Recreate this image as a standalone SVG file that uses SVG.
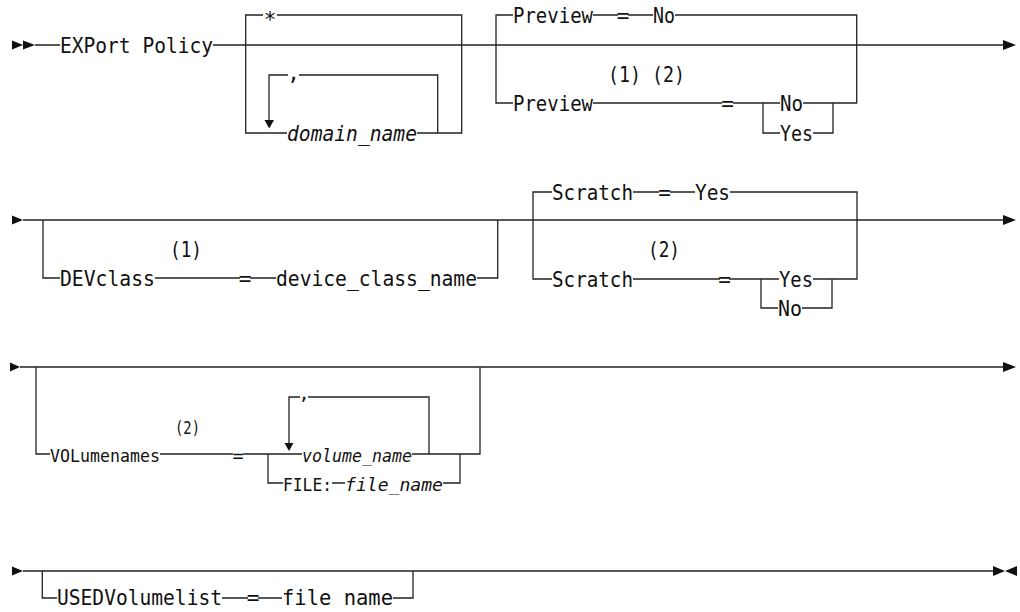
<svg xmlns="http://www.w3.org/2000/svg" width="1020" height="612" viewBox="0 0 1020 612">
<style>
text{font-family:"DejaVu Sans Mono","Liberation Mono",monospace;font-size:21px;fill:#111}
.s{font-size:18.5px}
.i{font-style:italic}
.m{text-anchor:middle}
.c{fill:none;stroke:#222;stroke-width:1.3}
.a{fill:#111;stroke:none}
</style>
<rect width="1020" height="612" fill="#fff"/>
<g id="connectors">
<path class="c" d="M35,45 H60 M213,45 H1003 M263,15 H245.7 V133 H287 M277,15 H461.7 V133 H417 M269,120 V75 H288 M299,75 H437.7 V133 M513,15 H496 V103 H513 M593,15 H618 M628,15 H653 M675,15 H856.7 V103 H803 M593,103 H722 M733,103 H780 M763,103 V133 H780 M813,133 H833 V103"/>
<path class="c" d="M23,220 H1003 M60,278 H43 V220 M497.7,220 V278 H477 M155,278 H240 M250,278 H276 M552,192 H533 V279 H552 M633,192 H659 M670,192 H695 M730,192 H857 V279 H813 M633,279 H720 M729,279 H779 M761,279 V308 H778 M802,308 H832 V279"/>
<path class="c" d="M20,367 H1003 M50,454 H36 V367 M480,367 V454 H412 M160,454 H233 M243,454 H302 M268,454 V483 H283 M332,483 H345 M443,483 H460 V454 M289,443 V397 H300 M308,397 H429 V454"/>
<path class="c" d="M23,571 H993 M57,598 H42.3 V571 M413,571 V598 H393 M222,598 H248 M258,598 H282"/>
<polygon class="a" points="12,40.5 23,45 12,49.5"/>
<polygon class="a" points="23,40.5 35,45 23,49.5"/>
<polygon class="a" points="1003,40 1016,45 1003,50"/>
<polygon class="a" points="264.5,120 274,120 269.2,128.5"/>
<polygon class="a" points="12,215.5 23,220 12,224.5"/>
<polygon class="a" points="1003,215 1016,220 1003,225"/>
<polygon class="a" points="10,362.5 20,367 10,371.5"/>
<polygon class="a" points="1003,362 1016,367 1003,372"/>
<polygon class="a" points="284.5,443 293.5,443 289,451"/>
<polygon class="a" points="12,566.5 23,571 12,575.5"/>
<polygon class="a" points="993,566 1005,571 993,576"/>
<polygon class="a" points="1017,566 1005,571 1017,576"/>
</g>
<g id="n-export"><text x="60" y="52.5" textLength="153" lengthAdjust="spacingAndGlyphs">EXPort Policy</text></g>
<g id="n-star"><text class="m" x="270" y="27">*</text></g>
<g id="n-comma1"><text class="m" x="293.5" y="80">,</text></g>
<g id="n-domain"><text class="i" x="287" y="140.5" textLength="130" lengthAdjust="spacingAndGlyphs">domain_name</text></g>
<g id="n-preview1"><text x="513" y="22.5" textLength="80" lengthAdjust="spacingAndGlyphs">Preview</text><text class="m" x="623" y="22.5">=</text><text x="653" y="22.5" textLength="22" lengthAdjust="spacingAndGlyphs">No</text></g>
<g id="n-note12"><text x="608" y="82" textLength="77" lengthAdjust="spacingAndGlyphs">(1) (2)</text></g>
<g id="n-preview2"><text x="513" y="110.5" textLength="80" lengthAdjust="spacingAndGlyphs">Preview</text><text class="m" x="727.5" y="110.5">=</text></g>
<g id="n-pno"><text x="780" y="110.5" textLength="23" lengthAdjust="spacingAndGlyphs">No</text></g>
<g id="n-pyes"><text x="780" y="140.5" textLength="33" lengthAdjust="spacingAndGlyphs">Yes</text></g>
<g id="n-devclass"><text x="60" y="285.5" textLength="95" lengthAdjust="spacingAndGlyphs">DEVclass</text><text x="170" y="257" textLength="32" lengthAdjust="spacingAndGlyphs">(1)</text><text class="m" x="245" y="285.5">=</text><text x="276" y="285.5" textLength="201" lengthAdjust="spacingAndGlyphs">device_class_name</text></g>
<g id="n-scratch1"><text x="552" y="199.5" textLength="81" lengthAdjust="spacingAndGlyphs">Scratch</text><text class="m" x="664.5" y="199.5">=</text><text x="695" y="199.5" textLength="35" lengthAdjust="spacingAndGlyphs">Yes</text></g>
<g id="n-scratch2"><text x="648" y="257" textLength="32" lengthAdjust="spacingAndGlyphs">(2)</text><text x="552" y="286.5" textLength="81" lengthAdjust="spacingAndGlyphs">Scratch</text><text class="m" x="724.5" y="286.5">=</text></g>
<g id="n-syes"><text x="779" y="286.5" textLength="34" lengthAdjust="spacingAndGlyphs">Yes</text></g>
<g id="n-sno"><text x="778" y="315.5" textLength="24" lengthAdjust="spacingAndGlyphs">No</text></g>
<g id="n-volnames"><text class="s" x="50" y="461.5" textLength="110" lengthAdjust="spacingAndGlyphs">VOLumenames</text><text class="s" x="175" y="434" textLength="25" lengthAdjust="spacingAndGlyphs">(2)</text><text class="s m" x="238" y="461.5">=</text></g>
<g id="n-volname"><text class="s i" x="302" y="461.5" textLength="110" lengthAdjust="spacingAndGlyphs">volume_name</text><text class="s m" x="304" y="400">,</text></g>
<g id="n-file"><text class="s" x="283" y="491" textLength="49" lengthAdjust="spacingAndGlyphs">FILE:</text><text class="s i" x="345" y="491" textLength="98" lengthAdjust="spacingAndGlyphs">file_name</text></g>
<g id="n-usedvol"><text x="57" y="605" textLength="165" lengthAdjust="spacingAndGlyphs">USEDVolumelist</text><text class="m" x="253" y="605">=</text><text x="282" y="605" textLength="111" lengthAdjust="spacingAndGlyphs">file name</text></g>
</svg>
